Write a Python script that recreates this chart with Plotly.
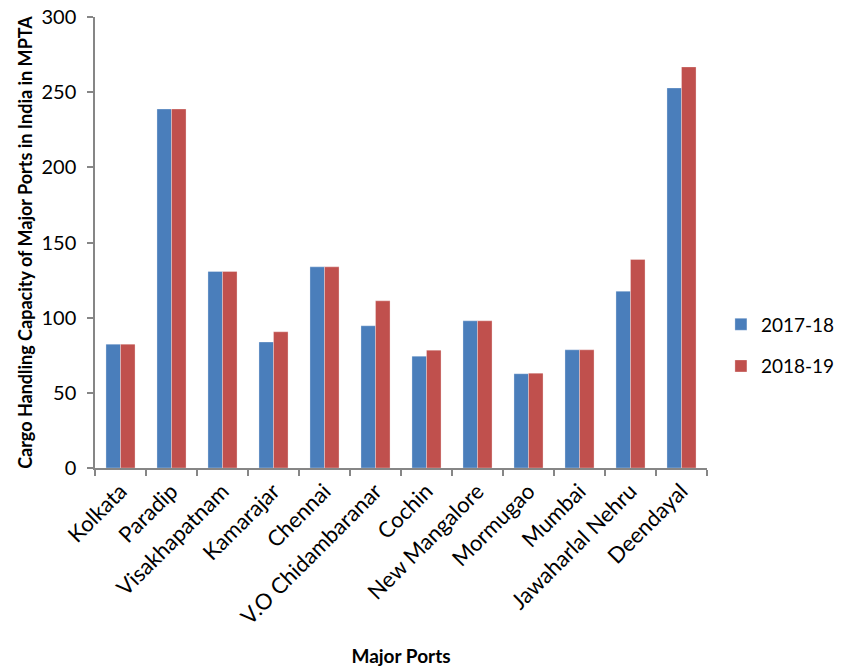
import plotly.graph_objects as go

ports = ["Kolkata", "Paradip", "Visakhapatnam", "Kamarajar", "Chennai",
         "V.O Chidambaranar", "Cochin", "New Mangalore", "Mormugao", "Mumbai",
         "Jawaharlal Nehru", "Deendayal"]
cap_2017_18 = [82.4, 238.8, 130.7, 83.8, 133.8, 94.6, 74.4, 97.9, 62.7, 78.6, 117.6, 252.8]
cap_2018_19 = [82.4, 238.8, 130.7, 90.6, 133.8, 111.2, 78.4, 97.9, 63.1, 78.6, 138.7, 266.8]
y_ticks = [0, 50, 100, 150, 200, 250, 300]

FONT = "Lato, Calibri, Carlito, sans-serif"
AXIS = "#868686"

fig = go.Figure()
fig.add_trace(go.Bar(x=ports, y=cap_2017_18, name="2017-18", legendgroup="a",
                     marker=dict(color="#4A7EBB", line=dict(color="rgba(255,255,255,0.5)", width=0.6))))
fig.add_trace(go.Bar(x=ports, y=cap_2018_19, name="2018-19", legendgroup="b",
                     marker=dict(color="#C0504D", line=dict(color="rgba(255,255,255,0.5)", width=0.6))))

# page body has an 8px margin, so the figure is shrunk by 8px and margins shifted
fig.update_layout(
    width=835, height=659,
    margin=dict(l=87, r=136, t=9, b=199),
    paper_bgcolor="white", plot_bgcolor="white",
    barmode="group", bargap=0.43, bargroupgap=0,
    font=dict(family=FONT, size=20, color="black"),
    showlegend=True,
    legend=dict(xref="container", yref="container", x=0.8538, y=0.488,
                xanchor="left", yanchor="middle",
                font=dict(family=FONT, size=19), tracegroupgap=14,
                borderwidth=0, bgcolor="rgba(0,0,0,0)"),
)
fig.update_xaxes(
    automargin=False,
    showline=True, linecolor=AXIS, linewidth=1.5,
    ticks="outside", tickson="boundaries", ticklen=6, tickcolor=AXIS, tickwidth=1.5,
    tickangle=-45, tickfont=dict(family=FONT, size=22),
    showgrid=False,
    title=dict(text="<b>Major Ports</b>", font=dict(family=FONT, size=19), standoff=27),
)
fig.update_yaxes(
    automargin=False,
    range=[0, 300], tickvals=y_ticks,
    showline=True, linecolor=AXIS, linewidth=1.5,
    ticks="outside", ticklen=6, tickcolor=AXIS, tickwidth=1.5,
    ticklabelstandoff=7, ticklabeloverflow="allow",
    tickfont=dict(family=FONT, size=20),
    showgrid=False, zeroline=False,
    title=dict(text="<b>Cargo Handling Capacity of Major Ports in India in MPTA</b>",
               font=dict(family=FONT, size=18), standoff=4),
)

fig.write_html("out.html")
